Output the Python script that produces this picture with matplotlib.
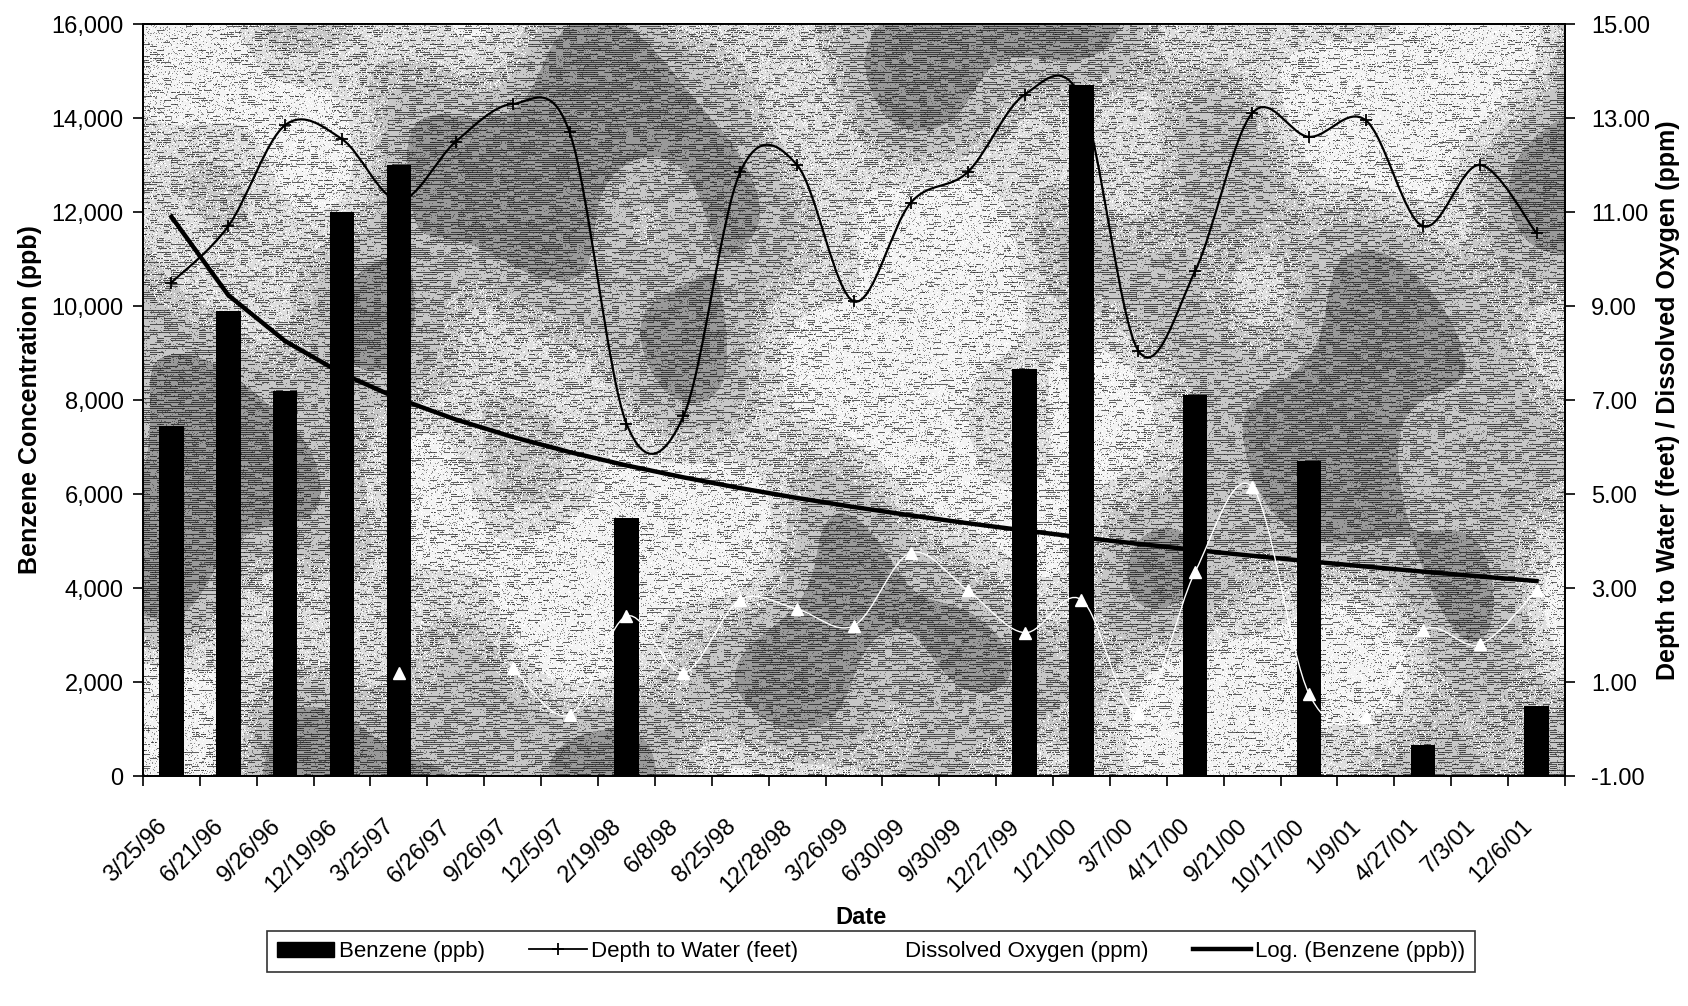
import numpy as np
import matplotlib
matplotlib.use("Agg")
import matplotlib.pyplot as plt
from matplotlib.path import Path
from matplotlib.patches import PathPatch, Patch
from matplotlib.lines import Line2D
from matplotlib.transforms import ScaledTranslation

nan = np.nan

# -----------------------------------------------------------------------------------
#                                  Data
# -----------------------------------------------------------------------------------
dates = ["3/25/96", "6/21/96", "9/26/96", "12/19/96", "3/25/97", "6/26/97",
         "9/26/97", "12/5/97", "2/19/98", "6/8/98", "8/25/98", "12/28/98",
         "3/26/99", "6/30/99", "9/30/99", "12/27/99", "1/21/00", "3/7/00",
         "4/17/00", "9/21/00", "10/17/00", "1/9/01", "4/27/01", "7/3/01", "12/6/01"]

benzene = [7450, 9900, 8200, 12000, 13000, nan, nan, nan, 5500, nan, nan, nan, nan,
           nan, nan, 8650, 14700, nan, 8100, nan, 6700, nan, 650, nan, 1500]

depth_to_water = [9.5, 10.7, 12.85, 12.55, 11.25, 12.5, 13.3, 12.7, 6.5, 6.65, 11.85,
                  12.0, 9.1, 11.2, 11.85, 13.5, 13.4, 8.05, 9.75, 13.1, 12.6, 12.95,
                  10.7, 12.0, 10.55]

dissolved_oxygen = [nan, nan, nan, nan, 1.2, nan, 1.3, 0.3, 2.4, 1.2, 2.75, 2.55, 2.2,
                    3.75, 2.95, 2.05, 2.75, 0.35, 3.35, 5.15, 0.75, 0.25, 2.1, 1.8, 2.95]

# Excel "Log." trendline of benzene: y = a*ln(n) + b, coefficients
trend_a, trend_b = -2408, 11900


def smooth_path(xs, ys):
    # Excel style smoothed line: cubic bezier through the points
    pts = np.column_stack([xs, ys])
    verts = [pts[0]]
    codes = [Path.MOVETO]
    n = len(pts)
    for i in range(n - 1):
        p0 = pts[i - 1] if i > 0 else pts[i]
        p1 = pts[i]
        p2 = pts[i + 1]
        p3 = pts[i + 2] if i + 2 < n else pts[i + 1]
        verts += [p1 + (p2 - p0) / 6, p2 - (p3 - p1) / 6, p2]
        codes += [Path.CURVE4] * 3
    return Path(verts, codes)


def runs(values):
    # contiguous stretches without gaps
    out, cur = [], []
    for i, v in enumerate(values):
        if np.isnan(v):
            if cur:
                out.append(cur)
            cur = []
        else:
            cur.append(i)
    if cur:
        out.append(cur)
    return out


def texture(h, w):
    # grey marble-like background with horizontal streaks (Excel texture fill look)
    yy, xx = np.mgrid[0:h, 0:w].astype(float)
    X = xx / w * 6.0
    Y = yy / h * 4.0
    f = (np.sin(1.3 * X + 2.1 * Y + 0.8 * np.sin(1.7 * Y + 0.4))
         + 0.8 * np.sin(2.6 * X - 1.4 * Y + 1.1 + 0.6 * np.sin(2.2 * X))
         + 0.55 * np.sin(4.3 * X + 3.1 * Y + 2.0)
         + 0.45 * np.sin(5.7 * X - 4.9 * Y + 0.7)
         + 0.3 * np.sin(9.1 * X + 1.3 * Y))
    f = f / 2.2
    hsh = np.modf(np.abs(np.sin(yy * 12.9898 + xx * 78.233) * 43758.5453))[0]
    dash = np.modf(np.abs(np.sin(yy * 39.346 + np.floor(xx / 7) * 11.135) * 24634.634))[0]
    img = np.full((h, w), 0.78)
    img[f > 0.4] = 0.95
    img[f < -0.45] = 0.6
    mid = (f > 0.1) & (f <= 0.4)
    img[mid] = 0.87
    # horizontal dark dashes on alternate rows
    streak = (yy % 2 == 0) & (dash < 0.42 - 0.3 * np.clip(f, -1, 1))
    img[streak] *= 0.4
    # fine speckle
    img[hsh < 0.1] *= 0.6
    img[(hsh > 0.88) & (f > -0.1)] = 1.0
    return np.clip(img, 0, 1)


# -----------------------------------------------------------------------------------
#                                  Figure
# -----------------------------------------------------------------------------------
plt.rcParams['font.family'] = ['Liberation Sans', 'DejaVu Sans']

fig = plt.figure(figsize=(16.88, 10.06), dpi=100)
ax = fig.add_axes([0.0847, 0.2286, 0.8424, 0.7475])
ax2 = ax.twinx()

n = len(dates)
x = np.arange(n)

ax.set_xlim(-0.5, n - 0.5)
ax.set_ylim(0, 16000)
ax2.set_ylim(-1, 15)

ax.imshow(texture(752, 1422), cmap="gray", vmin=0, vmax=1, aspect="auto",
          extent=(-0.5, n - 0.5, 0, 16000), interpolation="nearest", zorder=0)

ax.bar(x, benzene, width=0.43, color="black", zorder=2)

k = x + 1
ax.plot(x, trend_a * np.log(k) + trend_b, color="black", lw=3.2, zorder=3)

depth = np.array(depth_to_water)
ax2.add_patch(PathPatch(smooth_path(x, depth), fill=False, edgecolor="black", lw=1.6))
ax2.plot(x, depth, ls="none", marker="+", ms=9, mew=1.3, color="black")

do = np.array(dissolved_oxygen)
for r in runs(do):
    if len(r) > 1:
        ax2.add_patch(PathPatch(smooth_path(x[r], do[r]), fill=False,
                                edgecolor="white", lw=1.0))
ax2.plot(x, do, ls="none", marker="^", ms=8, mfc="white", mec="white", color="white")

# axes, ticks
ax.set_yticks(np.arange(0, 16001, 2000))
ax.set_yticklabels([f"{v:,}" for v in range(0, 16001, 2000)])
ax2.set_yticks(np.arange(-1, 15.1, 2))
ax2.set_yticklabels([f"{v:.2f}" for v in np.arange(-1, 15.1, 2)])

ax.set_xticks(np.arange(-0.5, n, 1.0))
ax.set_xticklabels([])
ax.set_xticks(x, dates, minor=True)
ax.tick_params(axis="x", which="major", direction="out", length=7, width=1.2)
ax.tick_params(axis="x", which="minor", length=0, pad=34, labelsize=17)
for lab in ax.get_xticklabels(minor=True):
    lab.set_rotation(45)
    lab.set_ha("right")
    lab.set_va("center")
    lab.set_rotation_mode("anchor")
    lab.set_transform(lab.get_transform() + ScaledTranslation(-0.08, 0, fig.dpi_scale_trans))

ax.tick_params(axis="y", direction="out", length=7, width=1.2, pad=7, labelsize=17)
ax2.tick_params(axis="y", direction="out", length=7, width=1.2, pad=12, labelsize=17)

for a in (ax, ax2):
    for s in a.spines.values():
        s.set_linewidth(1.3)
        s.set_color("black")

fig.text(30 / 1688, 0.6024, "Benzene Concentration (ppb)", rotation=90, ha="center",
         va="center", fontsize=18, fontweight="bold")
fig.text(1668 / 1688, 0.6024, "Depth to Water (feet) / Dissolved Oxygen (ppm)",
         rotation=90, ha="center", va="center", fontsize=18, fontweight="bold")
fig.text(861 / 1688, 1 - 918 / 1006, "Date", ha="center", va="center",
         fontsize=17, fontweight="bold")

handles = [Patch(facecolor="black", edgecolor="black"),
           Line2D([], [], color="black", lw=1.3, marker="+", ms=9, mew=1.3),
           Line2D([], [], color="white", lw=1.0, marker="^", ms=8, mfc="white", mec="white"),
           Line2D([], [], color="black", lw=3.2)]
labels = ["Benzene (ppb)", "Depth to Water (feet)", "Dissolved Oxygen (ppm)",
          "Log. (Benzene (ppb))"]
leg = fig.legend(handles, labels, loc="center", bbox_to_anchor=(0.516, 0.054), ncol=4,
                 frameon=True, fancybox=False, edgecolor="black",
                 handlelength=2.6, handletextpad=0.2, columnspacing=2.0,
                 borderpad=0.45, prop={"family": "Liberation Sans", "size": 16})
leg.get_frame().set_linewidth(1.2)

fig.savefig("out.png", dpi=100)
